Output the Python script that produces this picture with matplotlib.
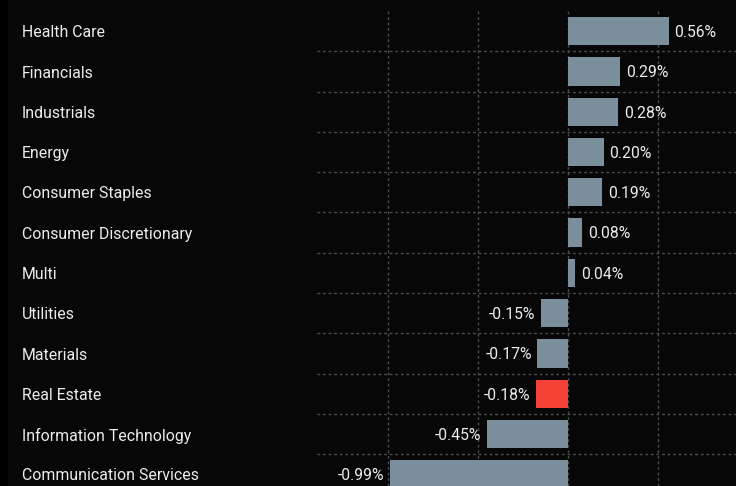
import matplotlib.pyplot as plt
import matplotlib.transforms as mtransforms

sectors = ['Health Care', 'Financials', 'Industrials', 'Energy', 'Consumer Staples',
           'Consumer Discretionary', 'Multi', 'Utilities', 'Materials', 'Real Estate',
           'Information Technology', 'Communication Services']
returns = [0.56, 0.29, 0.28, 0.20, 0.19, 0.08, 0.04, -0.15, -0.17, -0.18, -0.45, -0.99]
highlight = 'Real Estate'

bg = '#070707'
bar_color = '#7a8f9b'
red = '#f44336'
txt = '#ececec'

plt.rcParams['font.family'] = ['Roboto', 'DejaVu Sans']

fig = plt.figure(figsize=(7.36, 4.86), dpi=100, facecolor=bg)
# slightly darker strip on the far left
fig.patches.append(plt.Rectangle((0, 0), 8 / 736, 1, transform=fig.transFigure,
                                 facecolor='#000000', zorder=0))
ax = fig.add_axes([317 / 736, 0, 419 / 736, 475 / 486])
ax.set_facecolor(bg)

colors = [red if s == highlight else bar_color for s in sectors]
ypos = list(range(len(sectors)))
ax.barh(ypos, returns, height=0.7, color=colors, zorder=2)

ax.set_xlim(-1.394, 0.933)
ax.set_ylim(11.29, -0.5)

# dashed grid
for x in [-1.0, -0.5, 0.0, 0.5]:
    ax.axvline(x, color='#4d4d4d', lw=1.0, ls=(0, (2, 2)), zorder=1)
for y in ypos[:-1]:
    ax.axhline(y + 0.5, color='#4d4d4d', lw=1.0, ls=(0, (2, 2)), zorder=1)

ax.set_xticks([])
ax.set_yticks([])
for sp in ax.spines.values():
    sp.set_visible(False)

# value labels
for y, v in zip(ypos, returns):
    if v >= 0:
        ax.annotate(f'{v:.2f}%', (v, y), xytext=(4, -1), textcoords='offset points',
                    ha='left', va='center', color=txt, fontsize=11.3)
    else:
        ax.annotate(f'{v:.2f}%', (v, y), xytext=(-4, -1), textcoords='offset points',
                    ha='right', va='center', color=txt, fontsize=11.3)

# sector names
trans = mtransforms.blended_transform_factory(fig.transFigure, ax.transData)
for y, s in zip(ypos, sectors):
    ax.annotate(s, (22 / 736, y), xycoords=trans, xytext=(0, -1.2),
                textcoords='offset points', ha='left', va='center',
                color=txt, fontsize=11.4, annotation_clip=False)

fig.savefig('out.png', dpi=100, facecolor=bg)
